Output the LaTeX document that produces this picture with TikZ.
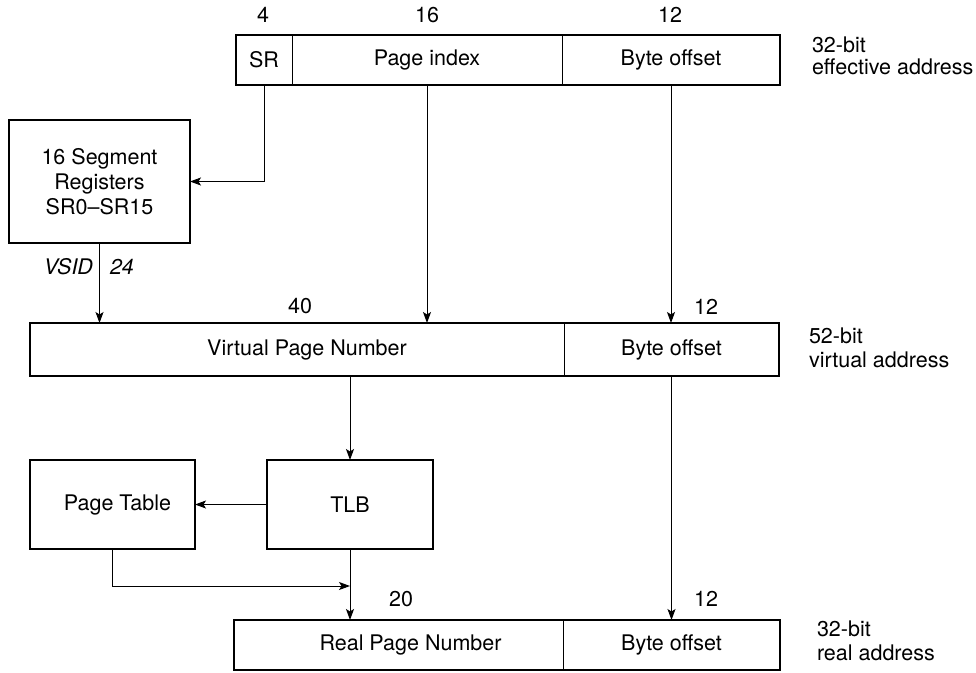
\documentclass[tikz,border=0pt]{standalone}
\usepackage{fontspec}
\setmainfont{TeX Gyre Heros}
\usetikzlibrary{arrows.meta}
\begin{document}
\begin{tikzpicture}[x=1pt,y=-1pt,
  txt/.style={font=\fontsize{21.5}{25}\selectfont},
  field/.style={draw, line width=1pt, rectangle, inner sep=0pt, outer sep=0pt, txt},
  frame/.style={draw, line width=1.8pt},
  blockbox/.style={draw, line width=1.7pt, rectangle, inner sep=0pt, outer sep=0pt, align=center, txt},
  arr/.style={line width=1pt, -{Stealth[length=11pt,width=8pt,inset=2.5pt]}},
  lbl/.style={inner sep=0pt, outer sep=0pt, txt}]
\useasboundingbox (0,0) rectangle (976,672);

% top row: 32-bit effective address
\node[field, minimum width=56pt, minimum height=50pt] (sr) at (264,60) {SR};
\node[field, minimum width=270pt, minimum height=50pt] (pidx) at (427,60) {Page index};
\node[field, minimum width=218pt, minimum height=50pt] (boffa) at (671,60) {Byte offset};
\draw[frame] (sr.north west) rectangle (boffa.south east);

% middle row: 52-bit virtual address
\node[field, minimum width=534pt, minimum height=53pt] (vpn) at (297,349.5) {\hspace*{20pt}Virtual Page Number};
\node[field, minimum width=215pt, minimum height=53pt] (boffb) at (671.5,349.5) {Byte offset};
\draw[frame] (vpn.north west) rectangle (boffb.south east);

% bottom row: 32-bit real address
\node[field, minimum width=329pt, minimum height=50pt] (rpn) at (398.5,645) {\hspace*{24pt}Real Page Number};
\node[field, minimum width=217pt, minimum height=50pt] (boffc) at (671.5,645) {Byte offset};
\draw[frame] (rpn.north west) rectangle (boffc.south east);

% blocks
\node[blockbox, minimum width=181pt, minimum height=123pt] (seg) at (99.5,181.5) {16 Segment\\Registers\\SR0--SR15};
\node[blockbox, minimum width=165pt, minimum height=89pt] (pt) at (112.5,504.5) {\hspace*{10pt}Page Table};
\node[blockbox, minimum width=166pt, minimum height=89pt] (tlb) at (350,504.5) {TLB};

% bit-width labels
\node[lbl, anchor=base] (l4) at (263,22) {4};
\node[lbl, anchor=base] (l16) at (427,22) {16};
\node[lbl, anchor=base] (l12a) at (670,22) {12};
\node[lbl, anchor=base] (l40) at (300,313) {40};
\node[lbl, anchor=base] (l12b) at (706,314) {12};
\node[lbl, anchor=base] (l20) at (401,606) {20};
\node[lbl, anchor=base] (l12c) at (706,606) {12};
\node[lbl, anchor=base east, font=\fontsize{21.5}{25}\selectfont\itshape] (vsid) at (93,274) {VSID};
\node[lbl, anchor=base west, font=\fontsize{21.5}{25}\selectfont\itshape] (l24) at (110,274) {24};

% address labels
\node[lbl, anchor=base west] (ea1) at (812,52) {32-bit};
\node[lbl, anchor=base west] (ea2) at (812,74) {effective address};
\node[lbl, anchor=base west] (va1) at (809,343) {52-bit};
\node[lbl, anchor=base west] (va2) at (809,367) {virtual address};
\node[lbl, anchor=base west] (ra1) at (817,636) {32-bit};
\node[lbl, anchor=base west] (ra2) at (817,660) {real address};

% connectors
\draw[arr] (sr.south) |- (seg.east);
\draw[arr] (seg.south) -- (seg.south |- vpn.north);
\draw[arr] (pidx.south) -- (pidx.south |- vpn.north);
\draw[arr] (boffa.south) -- (boffa.south |- boffb.north);
\draw[arr] (tlb.north |- vpn.south) -- (tlb.north);
\draw[arr] (tlb.west) -- (pt.east);
\coordinate (join) at (tlb.south |- 0,586);
\draw[arr] (pt.south) |- (join);
\draw[arr] (tlb.south) -- (tlb.south |- rpn.north);
\draw[arr] (boffb.south) -- (boffb.south |- boffc.north);
\end{tikzpicture}
\end{document}
